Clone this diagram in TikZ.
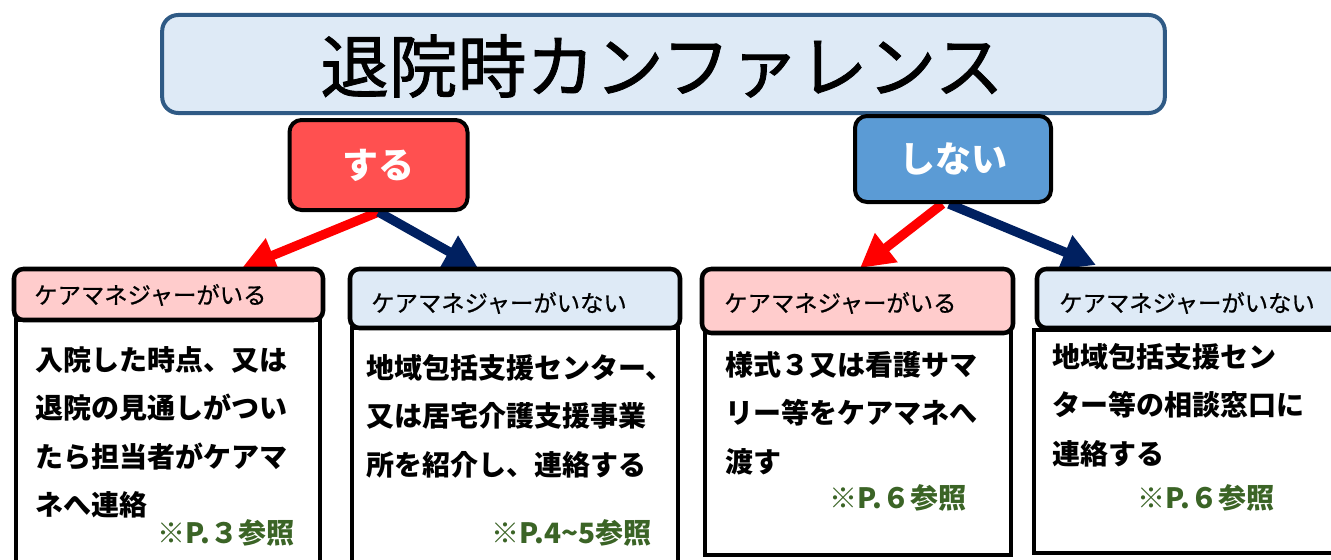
\documentclass[tikz,border=0pt]{standalone}
\usepackage{fontspec}
\newfontfamily\jp{Noto Sans CJK JP}
\newfontfamily\jptitle[FakeBold=1.2]{Noto Sans CJK JP}
\newfontfamily\jphead[FakeBold=0.7]{Noto Sans CJK JP}
\usetikzlibrary{arrows.meta,backgrounds}
\definecolor{titlefill}{HTML}{DEEAF6}
\definecolor{titledraw}{HTML}{2F5A85}
\definecolor{surufill}{HTML}{FF5050}
\definecolor{shinaifill}{HTML}{5B9BD5}
\definecolor{pinkfill}{HTML}{FFCCCC}
\definecolor{bluefill}{HTML}{DEEAF6}
\definecolor{refgreen}{HTML}{3B6426}
\definecolor{arrred}{HTML}{FF0000}
\definecolor{arrnavy}{HTML}{002060}
\tikzset{
  choice/.style={draw=black, line width=3pt, rounded corners=9pt, text=white,
    font=\jp\bfseries\fontsize{27}{30}\selectfont, inner sep=0pt},
  headbox/.style={draw=black, line width=3.4pt, rounded corners=7pt, inner sep=0pt},
  bodybox/.style={draw=black, fill=white, line width=3pt, inner sep=0pt},
  headtext/.style={anchor=west, inner sep=0pt, font=\jphead\fontsize{17.5}{20}\selectfont},
  bodytext/.style={anchor=north west, inner sep=0pt, align=left,
    font=\jp\bfseries\fontsize{21}{36.4}\selectfont},
  reftext/.style={anchor=east, inner sep=0pt, text=refgreen,
    font=\jp\bfseries\fontsize{21}{24}\selectfont},
  redarrow/.style={draw=arrred, line width=7pt, -{Triangle[length=25pt,width=26pt]}},
  navyarrow/.style={draw=arrnavy, line width=7pt, -{Triangle[length=25pt,width=26pt]}}
}
\begin{document}
\begin{tikzpicture}[x=0.75pt,y=-0.75pt]
\useasboundingbox (0,0) rectangle (1331,560);
\clip (0,0) rectangle (1331,560);
% title
\node[draw=titledraw, fill=titlefill, line width=3pt, rounded corners=12pt,
  minimum width=752pt, minimum height=73.5pt, inner sep=0pt] (title) at (663.5,64) {};
\node[inner sep=0pt, font=\jptitle\fontsize{51.5}{55}\selectfont] (titletext) at (662,66) {退院時カンファレンス};
% choices
\node[choice, fill=surufill, minimum width=133.5pt, minimum height=67.5pt] (suru) at (378.5,165) {する};
\node[choice, fill=shinaifill, minimum width=147pt, minimum height=64.5pt] (shinai) at (953,159) {しない};
% bodies
\node[bodybox, minimum width=228pt, minimum height=191.25pt] (b1) at (168,447.5) {};
\node[bodybox, minimum width=244.5pt, minimum height=185.25pt] (b2) at (515,451.5) {};
\node[bodybox, minimum width=229.5pt, minimum height=167.25pt] (b3) at (858,443.5) {};
\node[bodybox, minimum width=244.5pt, minimum height=167.25pt] (b4) at (1197,441.5) {};
% headers
\node[headbox, fill=pinkfill, minimum width=231.75pt, minimum height=38.25pt] (h1) at (168.5,294.5) {};
\node[headbox, fill=bluefill, minimum width=247.5pt, minimum height=44.25pt] (h2) at (515,298.5) {};
\node[headbox, fill=pinkfill, minimum width=233.25pt, minimum height=48pt] (h3) at (857.5,301) {};
\node[headbox, fill=bluefill, minimum width=240.75pt, minimum height=44.25pt] (h4) at (1197.5,298.5) {};
\node[headtext] (ht1) at (34,295) {ケアマネジャーがいる};
\node[headtext] (ht2) at (371,303) {ケアマネジャーがいない};
\node[headtext] (ht3) at (724,303) {ケアマネジャーがいる};
\node[headtext] (ht4) at (1059,303) {ケアマネジャーがいない};
% body texts
\node[bodytext] (bt1) at (35,346) {入院した時点、又は\\退院の見通しがつい\\たら担当者がケアマ\\ネへ連絡};
\node[bodytext] (bt2) at (366,354) {地域包括支援センター、\\又は居宅介護支援事業\\所を紹介し、連絡する};
\node[bodytext] (bt3) at (725,351) {様式３又は看護サマ\\リー等をケアマネへ\\渡す};
\node[bodytext] (bt4) at (1052,343) {地域包括支援セン\\ター等の相談窓口に\\連絡する};
\node[reftext] (r1) at (295,533) {※P.３参照};
\node[reftext] (r2) at (652,533) {※P.4\textasciitilde5参照};
\node[reftext] (r3) at (967,498) {※P.６参照};
\node[reftext] (r4) at (1275,498) {※P.６参照};
% arrows
\coordinate (t1) at (242,268);
\coordinate (t2) at (478,268);
\coordinate (t3) at (860,268);
\coordinate (t4) at (1096,265);
\begin{scope}[on background layer]
\draw[redarrow] (suru.south) -- (t1);
\draw[navyarrow] (suru.south) -- (t2);
\draw[redarrow] ([xshift=-8pt]shinai.south) -- (t3);
\draw[navyarrow] ([xshift=-3pt]shinai.south) -- (t4);
\end{scope}
\end{tikzpicture}
\end{document}
